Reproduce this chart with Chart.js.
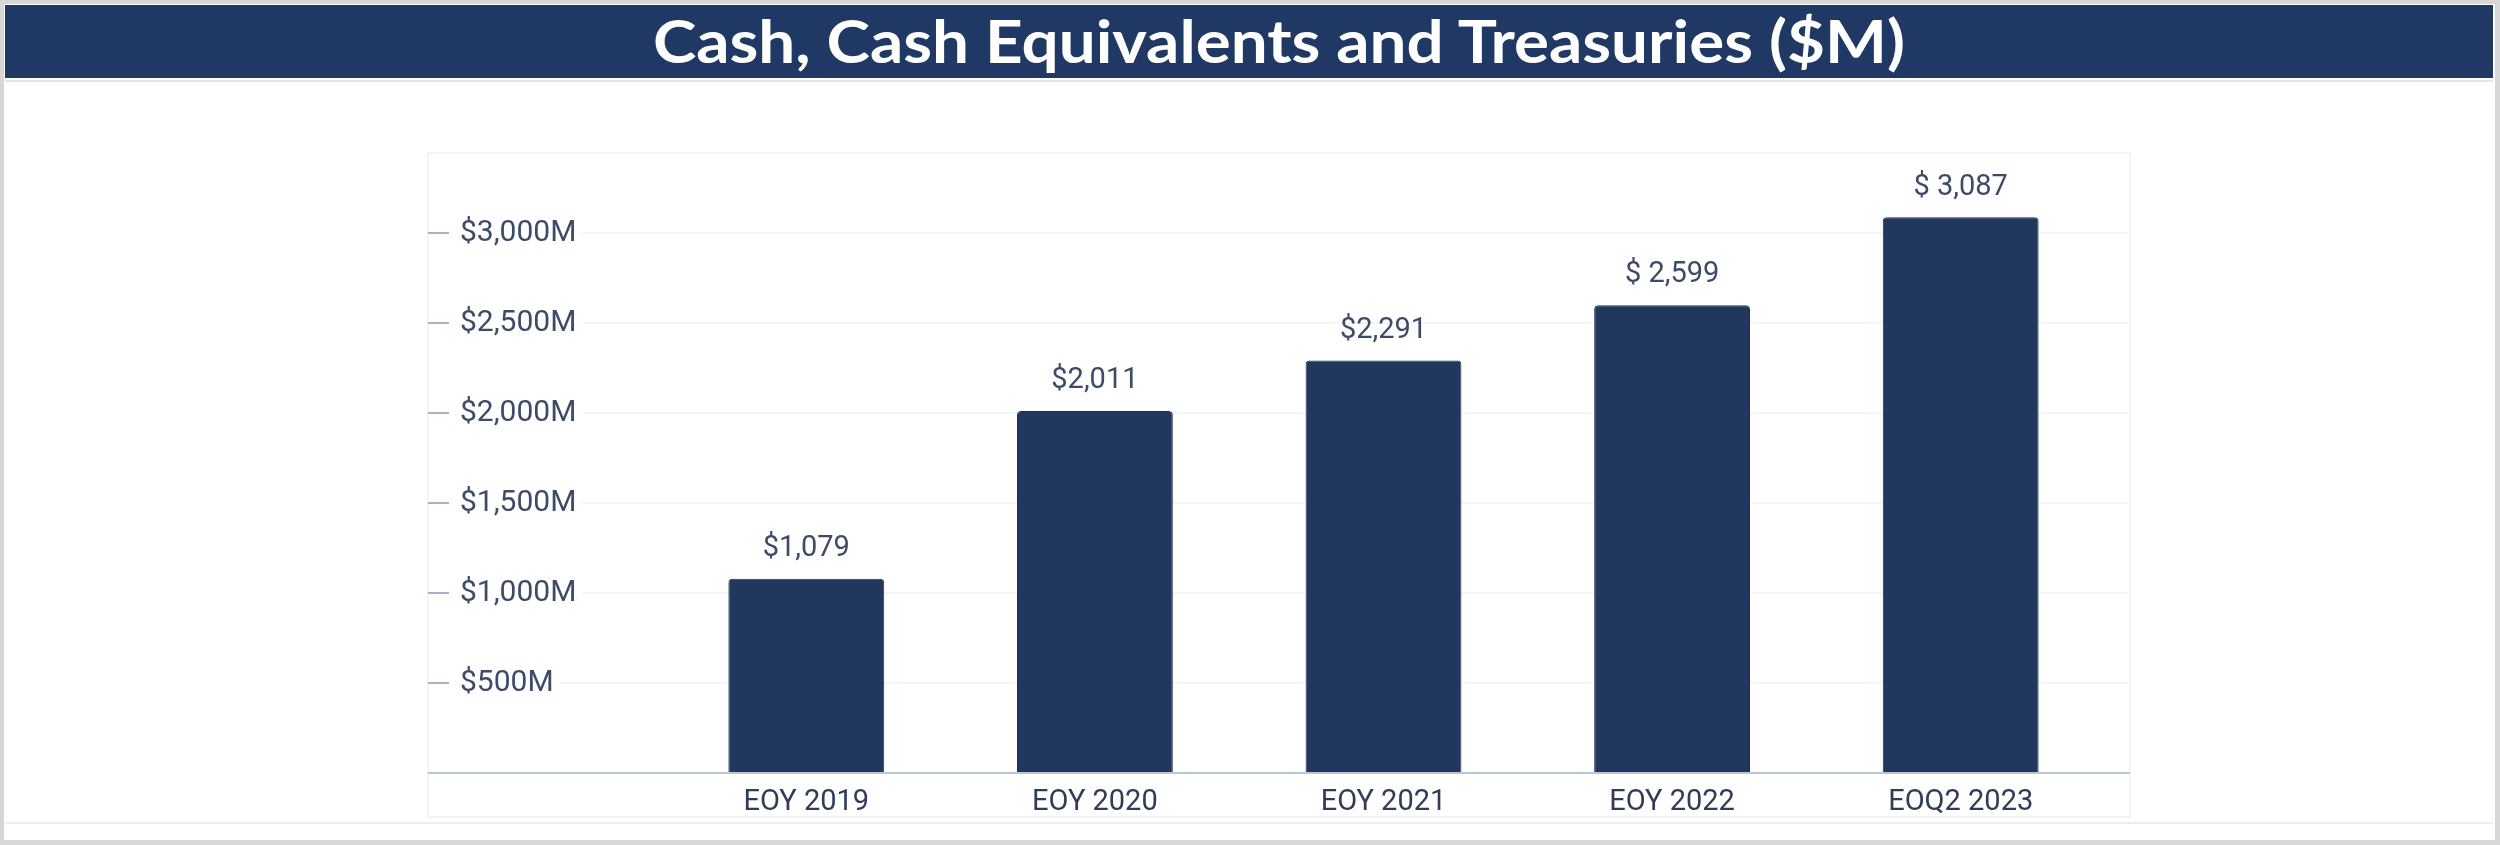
<!DOCTYPE html>
<html>
<head>
<meta charset="utf-8">
<script src="https://cdn.jsdelivr.net/npm/chart.js@4.4.0/dist/chart.umd.min.js"></script>
<style>
  html, body { margin: 0; padding: 0; background: #fff; }
  #page { position: relative; width: 2500px; height: 845px; overflow: hidden; background: #fff; }
  #frame { position: absolute; left: 0; top: 0; width: 2500px; height: 845px; box-sizing: border-box;
           border: 4px solid #d7d7d7; border-right-width: 5px; border-bottom-width: 5px; }
  #titleBar { position: absolute; left: 5px; top: 5px; width: 2488px; height: 73px; background: #1f3864;
              color: #fff; font-family: Lato, "Open Sans", sans-serif; font-weight: bold; font-size: 60px;
              line-height: 73px; text-align: center; white-space: nowrap; }
  #titleBar span { display: inline-block; position: relative; left: 30px; top: -1px; transform-origin: 50% 50%; }
  #lineA { position: absolute; left: 5px; top: 80px; width: 2488px; height: 2px; background: #e4e4e4; }
  #lineB { position: absolute; left: 5px; top: 822px; width: 2488px; height: 2px; background: #ececec; }
  #chartBox { position: absolute; left: 0; top: 0; width: 2500px; height: 845px; }
</style>
</head>
<body>
<div id="page">
  <div id="frame"></div>
  <div id="titleBar"><span id="titleText">Cash, Cash Equivalents and Treasuries ($M)</span></div>
  <div id="lineA"></div>
  <div id="lineB"></div>
  <div id="chartBox"><canvas id="cashChart"></canvas></div>
</div>
<script>
var categories = ['EOY 2019', 'EOY 2020', 'EOY 2021', 'EOY 2022', 'EOQ2 2023'];
var cashValues = [1079, 2011, 2291, 2599, 3087];
var valueLabels = ['$1,079', '$2,011', '$2,291', '$ 2,599', '$ 3,087'];
var tickValues = [500, 1000, 1500, 2000, 2500, 3000];
var tickLabels = ['$500M', '$1,000M', '$1,500M', '$2,000M', '$2,500M', '$3,000M'];

var navy = '#21375e';
var textColor = '#3d4b69';
var panel = {left: 428, right: 2130, top: 153, bottom: 817};

// stretch the title to the width it has in the reference
var tt = document.getElementById('titleText');
var tw = tt.getBoundingClientRect().width;
if (tw > 0) {
  tt.style.transform = 'scaleX(' + (1252 / tw) + ')';
}

var panelPlugin = {
  id: 'panelPlugin',
  beforeDraw: function(chart) {
    var ctx = chart.ctx;
    var y = chart.scales.y;
    ctx.save();
    // panel outline
    ctx.strokeStyle = '#eff0f3';
    ctx.lineWidth = 1.5;
    ctx.strokeRect(panel.left, panel.top, panel.right - panel.left, panel.bottom - panel.top);
    // grid lines and tick dashes
    ctx.font = '30px Roboto';
    for (var i = 0; i < tickValues.length; i++) {
      var py = Math.round(y.getPixelForValue(tickValues[i]));
      var w = ctx.measureText(tickLabels[i]).width;
      ctx.strokeStyle = '#f4f5f8';
      ctx.lineWidth = 2;
      ctx.beginPath();
      ctx.moveTo(y.left + w + 6, py);
      ctx.lineTo(panel.right, py);
      ctx.stroke();
      ctx.strokeStyle = '#a8b3c9';
      ctx.beginPath();
      ctx.moveTo(panel.left, py);
      ctx.lineTo(panel.left + 21, py);
      ctx.stroke();
    }
    ctx.restore();
  },
  afterDatasetsDraw: function(chart) {
    var ctx = chart.ctx;
    var y = chart.scales.y;
    var base = Math.round(y.getPixelForValue(0));
    ctx.save();
    // baseline across the whole panel
    ctx.strokeStyle = '#b9c5dc';
    ctx.lineWidth = 2;
    ctx.beginPath();
    ctx.moveTo(panel.left, base);
    ctx.lineTo(panel.right, base);
    ctx.stroke();
    // value labels
    ctx.fillStyle = textColor;
    ctx.font = '29px Roboto';
    ctx.textAlign = 'center';
    ctx.textBaseline = 'middle';
    chart.getDatasetMeta(0).data.forEach(function(bar, i) {
      ctx.fillText(valueLabels[i], bar.x, bar.y - 30);
    });
    ctx.restore();
  }
};

new Chart(document.getElementById('cashChart'), {
  type: 'bar',
  data: {
    labels: categories,
    datasets: [{
      data: cashValues,
      backgroundColor: navy,
      borderColor: '#1b2f52',
      borderWidth: 1,
      borderRadius: {topLeft: 4, topRight: 4},
      borderSkipped: 'bottom',
      categoryPercentage: 1,
      barPercentage: 0.54
    }]
  },
  options: {
    responsive: true,
    maintainAspectRatio: false,
    animation: false,
    devicePixelRatio: 1,
    layout: {padding: {left: 460, right: 395, top: 161, bottom: 28}},
    plugins: {legend: {display: false}, tooltip: {enabled: false}},
    scales: {
      x: {
        grid: {display: false, drawTicks: false},
        border: {display: false},
        ticks: {color: '#2f3c5a', font: {family: 'Roboto', size: 29}, padding: 12},
        afterFit: function(scale) { scale.height = 44; }
      },
      y: {
        min: 0,
        max: 3400,
        grid: {display: false, drawTicks: false},
        border: {display: false},
        afterBuildTicks: function(scale) {
          scale.ticks = tickValues.map(function(v) { return {value: v}; });
        },
        ticks: {
          color: textColor,
          font: {family: 'Roboto', size: 30},
          crossAlign: 'far',
          padding: 0,
          callback: function(v) { return tickLabels[tickValues.indexOf(v)]; }
        },
        afterFit: function(scale) { scale.width = 202; }
      }
    }
  },
  plugins: [panelPlugin]
});
</script>
</body>
</html>
